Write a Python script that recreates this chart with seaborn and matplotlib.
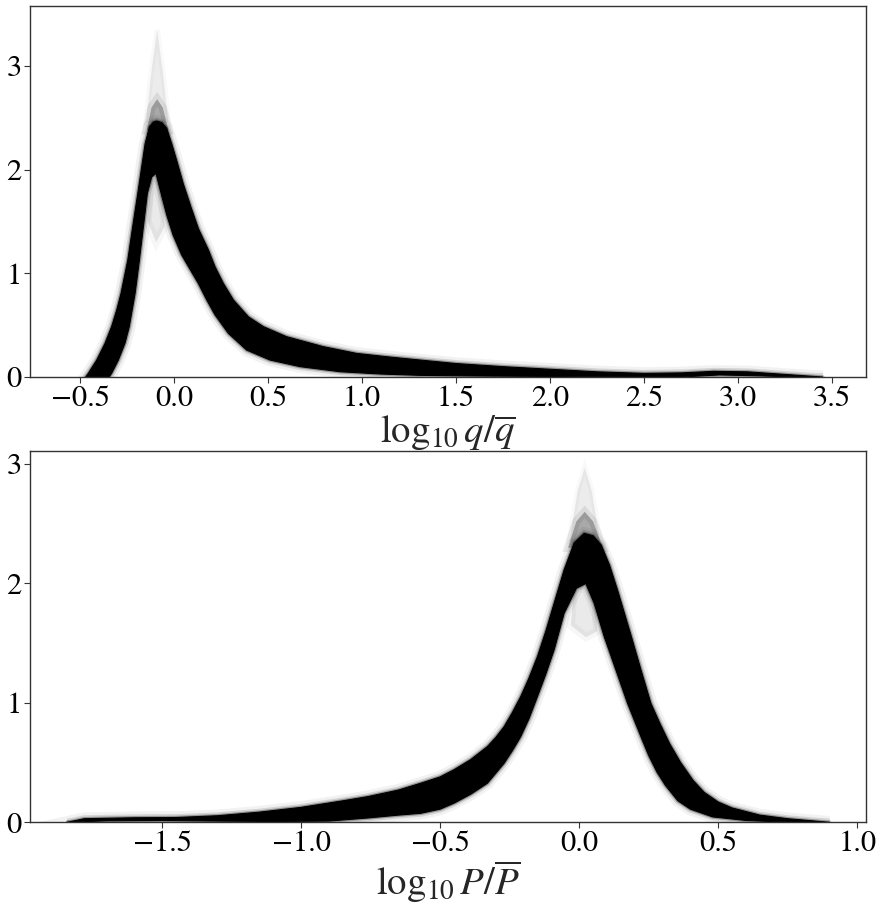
import matplotlib
matplotlib.use("Agg")
import matplotlib.pyplot as plt
import seaborn as sns

# --------------------------
# band of posterior density curves
# hi = outer edge (left flank, top, right flank), lo = inner edge
# --------------------------
# top panel: log10 q / qbar
q_hi_x = [-0.47, -0.456, -0.411, -0.367, -0.332, -0.305, -0.282, -0.246, -0.22, -0.193, -0.167,
          -0.154, -0.131, -0.11, -0.093, -0.065, -0.039, -0.012, 0.014, 0.05, 0.09, 0.13, 0.183,
          0.218, 0.262, 0.316, 0.395, 0.475, 0.599, 0.794, 0.971, 1.131, 1.308, 1.5, 1.75, 2.0,
          2.25, 2.5, 2.7, 2.87, 3.05, 3.25, 3.45]
q_hi_y = [0.0, 0.035, 0.164, 0.325, 0.486, 0.646, 0.807, 1.129, 1.45, 1.77, 2.09,
          2.25, 2.415, 2.46, 2.47, 2.455, 2.4, 2.25, 2.09, 1.86, 1.64, 1.43, 1.225,
          1.064, 0.904, 0.743, 0.582, 0.486, 0.389, 0.293, 0.228, 0.196, 0.164, 0.13, 0.1, 0.075,
          0.05, 0.035, 0.04, 0.055, 0.05, 0.025, 0.0]
q_lo_x = [-0.345, -0.332, -0.296, -0.261, -0.238, -0.207, -0.184, -0.163, -0.142, -0.119, -0.096,
          -0.07, -0.04, -0.005, 0.04, 0.085, 0.129, 0.175, 0.218, 0.289, 0.386, 0.51, 0.67, 0.883,
          1.096, 1.308, 1.6, 2.0, 2.4, 2.7, 2.9, 3.1, 3.3]
q_lo_y = [0.0, 0.035, 0.164, 0.325, 0.486, 0.807, 1.129, 1.45, 1.77, 1.93, 1.965,
          1.78, 1.57, 1.37, 1.18, 1.04, 0.904, 0.74, 0.6, 0.421, 0.26, 0.164, 0.1, 0.051,
          0.029, 0.016, 0.01, 0.005, 0.0, 0.0, 0.02, 0.012, 0.0]
q_cap_x = [-0.145, -0.12, -0.09, -0.06, -0.03]
q_cap_y = [2.38, 2.6, 2.68, 2.6, 2.38]
q_spike_x = [-0.15, -0.12, -0.09, -0.06, -0.03]
q_spike_y = [2.45, 2.95, 3.35, 2.95, 2.45]
q_hole_x = [-0.125, -0.096, -0.065, -0.05, -0.095, -0.14]
q_hole_y = [1.9, 1.965, 1.78, 1.45, 1.3, 1.5]

# bottom panel: log10 P / Pbar
p_hi_x = [-1.84, -1.78, -1.6, -1.45, -1.3, -1.15, -1.0, -0.85, -0.76, -0.65, -0.57, -0.5, -0.45,
          -0.39, -0.33, -0.3, -0.27, -0.24, -0.21, -0.18, -0.15, -0.12, -0.09, -0.054, -0.018,
          0.018, 0.05, 0.08, 0.11, 0.14, 0.186, 0.222, 0.258, 0.29, 0.325, 0.365, 0.41, 0.45,
          0.5, 0.55, 0.65, 0.75, 0.85, 0.9]
p_hi_y = [0.0, 0.03, 0.038, 0.04, 0.055, 0.085, 0.125, 0.18, 0.215, 0.27, 0.327, 0.38, 0.44,
          0.525, 0.634, 0.71, 0.80, 0.92, 1.053, 1.21, 1.388, 1.6, 1.835, 2.115, 2.34,
          2.42, 2.40, 2.32, 2.15, 1.93, 1.57, 1.28, 0.997, 0.83, 0.66, 0.5, 0.35, 0.25,
          0.17, 0.12, 0.06, 0.03, 0.01, 0.0]
p_lo_x = [-1.84, -1.7, -1.5, -1.3, -1.1, -0.9, -0.76, -0.65, -0.57, -0.5, -0.45, -0.39, -0.33,
          -0.27, -0.24, -0.21, -0.18, -0.15, -0.12, -0.09, -0.054, -0.01, 0.024, 0.054, 0.09,
          0.132, 0.174, 0.222, 0.25, 0.28, 0.31, 0.355, 0.4, 0.48, 0.6, 0.7, 0.8]
p_lo_y = [0.0, 0.012, 0.015, 0.01, 0.006, 0.01, 0.036, 0.06, 0.075, 0.11, 0.16, 0.235, 0.327,
          0.494, 0.6, 0.718, 0.87, 1.053, 1.24, 1.444, 1.75, 1.96, 2.0, 1.835, 1.556,
          1.277, 0.997, 0.718, 0.56, 0.42, 0.31, 0.18, 0.11, 0.045, 0.015, 0.005, 0.0]
p_cap_x = [-0.04, -0.01, 0.02, 0.05, 0.085]
p_cap_y = [2.3, 2.52, 2.6, 2.52, 2.3]
p_spike_x = [-0.035, -0.005, 0.02, 0.045, 0.075]
p_spike_y = [2.35, 2.78, 2.97, 2.78, 2.35]
p_hole_x = [-0.02, 0.024, 0.06, 0.065, 0.024, -0.03]
p_hole_y = [1.94, 2.0, 1.8, 1.6, 1.55, 1.65]

sns.set_style("ticks")
plt.rcParams["font.family"] = ["STIXGeneral", "DejaVu Serif"]
plt.rcParams["mathtext.fontset"] = "stix"
plt.rcParams["axes.edgecolor"] = "#333333"
plt.rcParams["xtick.color"] = "#333333"
plt.rcParams["ytick.color"] = "#333333"
plt.rcParams["xtick.labelcolor"] = "black"
plt.rcParams["ytick.labelcolor"] = "black"

fig = plt.figure(figsize=(8.82, 9.05), dpi=100)
ax1 = fig.add_axes([0.034, 0.5834, 0.948, 0.41])
ax2 = fig.add_axes([0.034, 0.0914, 0.948, 0.4103])


def draw_band(ax, hi_x, hi_y, lo_x, lo_y, cap_x, cap_y, spike_x, spike_y, hole_x, hole_y):
    px = hi_x + lo_x[::-1]
    py = hi_y + lo_y[::-1]
    # faint spread of the individual curves above the peak and inside it
    ax.fill(spike_x, spike_y, facecolor="black", alpha=0.025, lw=4, edgecolor="black")
    ax.fill(spike_x, spike_y, facecolor="black", alpha=0.05, lw=0)
    ax.fill(cap_x, cap_y, facecolor="black", alpha=0.08, lw=6, edgecolor="black")
    ax.fill(cap_x, cap_y, facecolor="black", alpha=0.22, lw=0)
    ax.fill(hole_x, hole_y, facecolor="black", alpha=0.03, lw=6, edgecolor="black")
    ax.fill(hole_x, hole_y, facecolor="black", alpha=0.05, lw=0)
    # soft halo round the dense core
    ax.fill(px, py, facecolor="none", edgecolor="black", lw=9, alpha=0.05)
    ax.fill(px, py, facecolor="none", edgecolor="black", lw=5, alpha=0.12)
    sns.lineplot(x=hi_x, y=hi_y, sort=False, estimator=None, color="black", lw=2.5, alpha=0.3, ax=ax)
    sns.lineplot(x=lo_x, y=lo_y, sort=False, estimator=None, color="black", lw=2.5, alpha=0.3, ax=ax)
    ax.fill(px, py, color="black", lw=0.8, edgecolor="black")


draw_band(ax1, q_hi_x, q_hi_y, q_lo_x, q_lo_y, q_cap_x, q_cap_y, q_spike_x, q_spike_y, q_hole_x, q_hole_y)
draw_band(ax2, p_hi_x, p_hi_y, p_lo_x, p_lo_y, p_cap_x, p_cap_y, p_spike_x, p_spike_y, p_hole_x, p_hole_y)

ax1.set_xlim(-0.766, 3.68)
ax1.set_ylim(0, 3.58)
ax1.set_xticks([-0.5, 0.0, 0.5, 1.0, 1.5, 2.0, 2.5, 3.0, 3.5])
ax1.set_yticks([0, 1, 2, 3])
ax1.set_xlabel(r"$\log_{10} q/\overline{q}$", fontsize=28, labelpad=0)

ax2.set_xlim(-1.975, 1.032)
ax2.set_ylim(0, 3.11)
ax2.set_xticks([-1.5, -1.0, -0.5, 0.0, 0.5, 1.0])
ax2.set_yticks([0, 1, 2, 3])
ax2.set_xlabel(r"$\log_{10} P/\overline{P}$", fontsize=28, labelpad=0)

for ax in (ax1, ax2):
    ax.set_ylabel("")
    ax.tick_params(labelsize=22, length=4, width=0.8, pad=2)
    for s in ax.spines.values():
        s.set_linewidth(1.0)

fig.savefig("out.png", dpi=100, facecolor="white")
